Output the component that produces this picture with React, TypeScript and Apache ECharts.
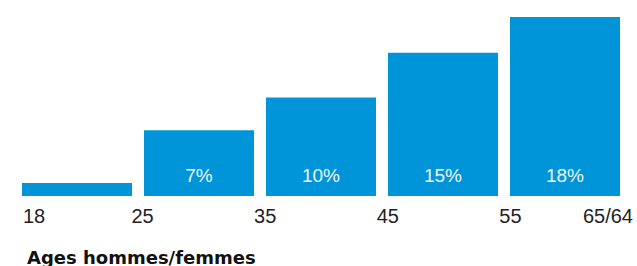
import React, { useEffect, useRef } from "react";
import * as echarts from "echarts";

const categories = ["18-25", "25-35", "35-45", "45-55", "55-65/64"];
const values = [1.3, 6.6, 9.9, 14.4, 18.0];
const barLabels = ["", "7%", "10%", "15%", "18%"];
const tickLabels = ["18", "25", "35", "45", "55", "65/64"];
const titleText = "Ages hommes/femmes";

export default function App() {
  const ref = useRef<HTMLDivElement>(null);
  useEffect(() => {
    if (!ref.current) return;
    const chart = echarts.init(ref.current, null, { renderer: "svg" });
    const font = "'Liberation Sans', Arial, Helvetica, sans-serif";
    chart.setOption({
      animation: false,
      title: {
        text: titleText,
        left: 22,
        top: 243,
        textStyle: { fontFamily: "'DejaVu Sans', sans-serif", fontSize: 18, fontWeight: "bold", color: "#111" },
      },
      grid: [
        { left: 16, right: 11, top: 17, bottom: 70 },
        { left: 20, right: 4, top: 17, bottom: 70 },
      ],
      xAxis: [
        {
          type: "category",
          data: categories,
          gridIndex: 0,
          axisLine: { show: false },
          axisTick: { show: false },
          axisLabel: { show: false },
        },
        {
          type: "value",
          gridIndex: 1,
          min: 0,
          max: 5,
          interval: 1,
          axisLine: { show: false },
          axisTick: { show: false },
          splitLine: { show: false },
          axisLabel: {
            margin: 10,
            fontFamily: font,
            fontSize: 20,
            color: "#222",
            alignMinLabel: "left",
            alignMaxLabel: "right",
            formatter: (v: number) => {
              const i = Math.round(v);
              return i === 0 ? "{p|" + tickLabels[0] + "}" : tickLabels[i] ?? "";
            },
            rich: {
              p: { fontFamily: font, fontSize: 20, color: "#222", padding: [0, 0, 0, 3] },
            },
          },
        },
      ],
      yAxis: [
        { type: "value", gridIndex: 0, min: 0, max: 18, show: false },
        { type: "value", gridIndex: 1, min: 0, max: 1, show: false },
      ],
      series: [
        {
          type: "bar",
          xAxisIndex: 0,
          yAxisIndex: 0,
          data: values,
          barCategoryGap: "9.8%",
          itemStyle: { color: "#0095d8" },
          label: {
            show: true,
            position: "insideBottom",
            distance: 11,
            fontFamily: font,
            fontSize: 19,
            color: "#eef7fc",
            formatter: (p: any) => barLabels[p.dataIndex],
          },
        },
      ],
    });
    return () => chart.dispose();
  }, []);
  return (
    <div
      ref={ref}
      style={{ position: "absolute", left: 0, top: 0, width: 637, height: 266 }}
    />
  );
}
